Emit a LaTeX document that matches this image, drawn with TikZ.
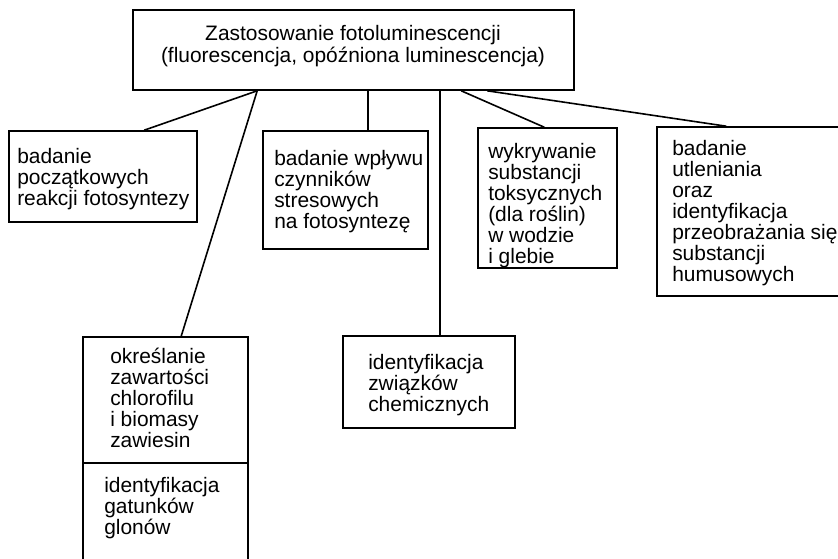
\documentclass[tikz,border=0pt]{standalone}
\usepackage{fontspec}
\setmainfont{Liberation Sans}
\usetikzlibrary{fit,calc}
\begin{document}
\begin{tikzpicture}[x=0.75pt,y=-0.75pt,
  box/.style={draw, line width=1.2pt, inner sep=0pt},
  txt/.style={anchor=north west, inner sep=0pt, align=left, font=\fontsize{15.7pt}{15.75pt}\selectfont},
  link/.style={line width=1.2pt}]
\useasboundingbox (0,0) rectangle (838,559);
\clip (0,0) rectangle (838,559);
% boxes
\node[box, fit={(133,10) (574,90)}] (top) {};
\node[box, fit={(9,131) (197,222)}] (b1) {};
\node[box, fit={(263,131) (428,249)}] (b2) {};
\node[box, fit={(478,128) (617,268)}] (b3) {};
\node[box, fit={(657,127) (860,296)}] (b4) {};
\node[box, fit={(83,337) (248,463)}] (b5) {};
\node[box, fit={(83,463) (248,580)}] (b5b) {};
\node[box, fit={(343,336) (515,428)}] (b6) {};
% texts
\node[anchor=north, inner sep=0pt, align=center, font=\fontsize{15.7pt}{16.5pt}\selectfont] (t0) at (353,25)
  {Zastosowanie fotoluminescencji\\(fluorescencja, opóźniona luminescencja)};
\node[txt] (t1) at (17,148) {badanie\\początkowych\\reakcji fotosyntezy};
\node[txt] (t2) at (274,150) {badanie wpływu\\czynników\\stresowych\\na fotosyntezę};
\node[txt] (t3) at (488,143) {wykrywanie\\substancji\\toksycznych\\(dla roślin)\\w wodzie\\i glebie};
\node[txt] (t4) at (672,140) {badanie\\utleniania\\oraz\\identyfikacja\\przeobrażania się\\substancji\\humusowych};
\node[txt] (t5) at (110,348) {określanie\\zawartości\\chlorofilu\\i biomasy\\zawiesin};
\node[txt] (t5b) at (104,477) {identyfikacja\\gatunków\\glonów};
\node[txt] (t6) at (368,354) {identyfikacja\\związków\\chemicznych};
% connectors
\draw[link] ($(top.south west)+(125,0)$) -- ($(b1.north west)+(136,0)$);
\draw[link] ($(top.south west)+(125,0)$) -- ($(b5.north west)+(99,0)$);
\draw[link] ($(top.south west)+(236,0)$) -- ($(b2.north west)+(106,0)$);
\draw[link] ($(top.south west)+(308,0)$) -- ($(b6.north west)+(98,0)$);
\draw[link] ($(top.south west)+(329,0)$) -- ($(b3.north west)+(67,0)$);
\draw[link] ($(top.south west)+(355,0)$) -- ($(b4.north west)+(70,0)$);
\end{tikzpicture}
\end{document}
